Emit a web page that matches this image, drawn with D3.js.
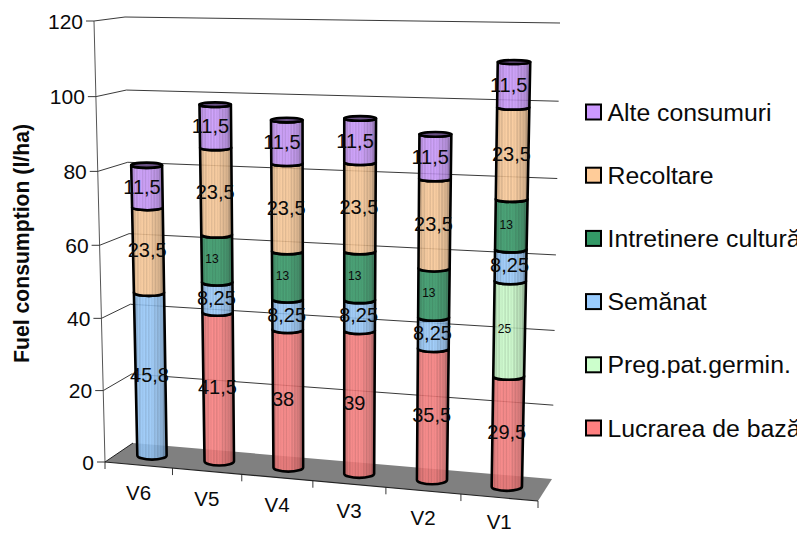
<!DOCTYPE html>
<html>
<head>
<meta charset="utf-8">
<style>
  html, body { margin: 0; padding: 0; background: #fff; }
  text { font-family: "Liberation Sans", Arial, sans-serif; fill: #0a0a0a; }
</style>
<script src="https://cdn.jsdelivr.net/npm/d3@7"></script>
</head>
<body>
<svg id="chart" width="804" height="533"></svg>
<script>
var categories = ["V6", "V5", "V4", "V3", "V2", "V1"];
var seriesNames = ["Lucrarea de bază", "Preg.pat.germin.", "Semănat", "Intretinere cultură", "Recoltare", "Alte consumuri"];
var lucrare = [0, 41.5, 38, 39, 35.5, 29.5];
var pregatire = [0, 0, 0, 0, 0, 25];
var semanat = [45.8, 8.25, 8.25, 8.25, 8.25, 8.25];
var intretinere = [0, 13, 13, 13, 13, 13];
var recoltare = [23.5, 23.5, 23.5, 23.5, 23.5, 23.5];
var alte = [11.5, 11.5, 11.5, 11.5, 11.5, 11.5];
var valueTicks = [0, 20, 40, 60, 80, 100, 120];

var allSeries = [lucrare, pregatire, semanat, intretinere, recoltare, alte];
var colors = ["#ff8080", "#ccffcc", "#99ccff", "#339966", "#ffcc99", "#cc99ff"];

var svg = d3.select("#chart");
var defs = svg.append("defs");
defs.append("clipPath").attr("id", "page").append("rect")
    .attr("width", 797).attr("height", 533);

// perspective: both axes shrink a little towards the viewer's left/bottom
function persp(t, k) { return t / (t + k * (1 - t)); }
var catIndex = d3.scaleLinear().domain([0, categories.length]).range([0, 1]);
var val = d3.scaleLinear().domain([0, 120]).range([0, 1]);
var fu = function(i) { return persp(catIndex(i), 1.083); };
var fv = function(v) { return persp(val(v), 1.035); };

// plot box corners: f front, b back, l left, r right, 0 floor, 1 top
var box = {
  fl0: [105, 462], fr0: [538, 501], bl0: [133, 443], br0: [552, 479],
  fl1: [94, 21], fr1: [549, 29], bl1: [125, 17], br1: [560, 23]
};
function lerp(a, b, t) { return [a[0] + (b[0] - a[0]) * t, a[1] + (b[1] - a[1]) * t]; }
// u across the categories, d depth (0 front, 1 back), v up the value axis, all 0..1
function project(u, d, v) {
  var floor = lerp(lerp(box.fl0, box.fr0, u), lerp(box.bl0, box.br0, u), d);
  var top = lerp(lerp(box.fl1, box.fr1, u), lerp(box.bl1, box.br1, u), d);
  return lerp(floor, top, v);
}

var lineGen = d3.line();
var ink = "#222";

// floor
svg.append("path")
    .attr("d", lineGen([box.fl0, box.bl0, box.br0, box.fr0]) + "Z")
    .attr("fill", "#808080").attr("stroke", "none");

// gridlines, left wall then back wall
svg.append("g").selectAll("path")
  .data(valueTicks.slice(1))
  .enter().append("path")
    .attr("d", function(d) {
      var v = fv(d);
      return lineGen([project(0, 0, v), project(0, 1, v), project(1, 1, v)]);
    })
    .attr("fill", "none").attr("stroke", ink).attr("stroke-width", 0.9);

// value axis and ticks
svg.append("path")
    .attr("d", lineGen([box.fl0, box.fl1]))
    .attr("stroke", "#555").attr("stroke-width", 1).attr("fill", "none");
svg.append("path")
    .attr("d", lineGen([box.fl0, box.bl0]))
    .attr("stroke", ink).attr("stroke-width", 1).attr("fill", "none");
var yAxis = svg.append("g").selectAll("g")
  .data(valueTicks)
  .enter().append("g")
    .attr("transform", function(d) {
      var p = project(0, 0, fv(d));
      return "translate(" + p[0] + "," + p[1] + ")";
    });
yAxis.append("line").attr("x1", -8).attr("x2", 0)
    .attr("stroke", ink).attr("stroke-width", 0.9);
yAxis.append("text")
    .attr("x", -11).attr("y", 7.5)
    .attr("text-anchor", "end")
    .attr("font-size", 21)
    .text(function(d) { return d; });

// category axis
svg.append("path")
    .attr("d", lineGen([box.fl0, box.fr0]))
    .attr("stroke", ink).attr("stroke-width", 1.2).attr("fill", "none");
svg.append("g").selectAll("line")
  .data(d3.range(categories.length + 1))
  .enter().append("line")
    .each(function(i) {
      var p = project(fu(i), 0, 0);
      d3.select(this).attr("x1", p[0]).attr("x2", p[0])
        .attr("y1", p[1]).attr("y2", p[1] + 7);
    })
    .attr("stroke", ink).attr("stroke-width", 0.9);
svg.append("g").selectAll("text")
  .data(categories)
  .enter().append("text")
    .each(function(c, i) {
      var p = project(fu(i + 0.5), 0, 0);
      // last label would run off the bottom of the page
      d3.select(this).attr("x", p[0]).attr("y", Math.min(p[1] + 34.5, 528.5));
    })
    .attr("text-anchor", "middle")
    .attr("font-size", 20.5)
    .text(function(c) { return c; });

// axis title
svg.append("text")
    .attr("transform", "translate(29,243.5) rotate(-90)")
    .attr("text-anchor", "middle")
    .attr("font-size", 21.2)
    .attr("font-weight", "bold")
    .text("Fuel consumption (l/ha)");

// ribbed cylinder shading, one gradient per colour
var ribCount = 22;
colors.forEach(function(c, s) {
  var g = defs.append("linearGradient").attr("id", "rib" + s);
  d3.range(ribCount + 1).forEach(function(r) {
    var t = r / ribCount;
    var edge = Math.abs(t - 0.4) * 2;
    var rib = r % 2 ? 0.08 : r % 3 ? -0.06 : 0.01;
    var shade = -0.09 - 0.2 * edge * edge + rib;
    var col = shade < 0 ? d3.interpolateRgb(c, "#000")(-shade) : d3.interpolateRgb(c, "#fff")(shade);
    g.append("stop").attr("offset", t).attr("stop-color", col);
  });
});

// bar geometry at column i, value v
function rx(i, v) { return 14.6 + 0.6 * fu(i + 0.5) + 1.2 * fv(v); }
function ry(v) { return 4.2 - 2.4 * fv(v); }
function centre(i, v) { return project(fu(i + 0.5), 0.5, fv(v)); }

function segmentPath(i, v0, v1) {
  var a = centre(i, v0), b = centre(i, v1);
  var ra = rx(i, v0), rb = rx(i, v1), ya = ry(v0), yb = ry(v1);
  return "M" + (a[0] - ra) + "," + a[1] +
    "L" + (b[0] - rb) + "," + b[1] +
    "A" + rb + "," + yb + " 0 0 0 " + (b[0] + rb) + "," + b[1] +
    "L" + (a[0] + ra) + "," + a[1] +
    "A" + ra + "," + ya + " 0 0 1 " + (a[0] - ra) + "," + a[1] + "Z";
}

var bars = svg.append("g");
var labels = svg.append("g");
categories.forEach(function(c, i) {
  var base = 0;
  allSeries.forEach(function(values, s) {
    var value = values[i];
    if (!value) return;
    var top = base + value;
    bars.append("path")
        .attr("d", segmentPath(i, base, top))
        .attr("fill", "url(#rib" + s + ")")
        .attr("fill-opacity", 0.88)
        .attr("stroke", "#000").attr("stroke-width", 2.6)
        .attr("stroke-linejoin", "round");
    var mid = centre(i, (base + top) / 2);
    var whole = value === Math.round(value);
    labels.append("text")
        .attr("x", mid[0] + (whole || s === 5 ? -5 : -1))
        .attr("y", mid[1])
        .attr("dy", "0.36em")
        .attr("text-anchor", "middle")
        .attr("font-size", value === 13 || value === 25 ? 12 : 20)
        .text(String(value).replace(".", ","));
    base = top;
  });
  // top cap
  var t = centre(i, base);
  bars.append("ellipse")
      .attr("cx", t[0]).attr("cy", t[1])
      .attr("rx", rx(i, base)).attr("ry", ry(base))
      .attr("fill", d3.color(colors[5]).darker(1.8))
      .attr("stroke", "#000").attr("stroke-width", 2.6);
});

// legend, top entry is the last series
var legend = svg.append("g").attr("clip-path", "url(#page)");
var legendY = d3.scalePoint().domain(seriesNames.slice().reverse()).range([112, 428]);
var entries = legend.selectAll("g")
  .data(seriesNames)
  .enter().append("g")
    .attr("transform", function(d) { return "translate(586,"  + legendY(d) + ")"; });
entries.append("rect")
    .attr("x", 0).attr("y", -7.5).attr("width", 15).attr("height", 15)
    .attr("fill", function(d, i) { return colors[i]; })
    .attr("stroke", "#000").attr("stroke-width", 2);
entries.append("text")
    .attr("x", 21.5).attr("y", 8.5)
    .attr("font-size", 24.8)
    .text(function(d) { return d; });
</script>
</body>
</html>
